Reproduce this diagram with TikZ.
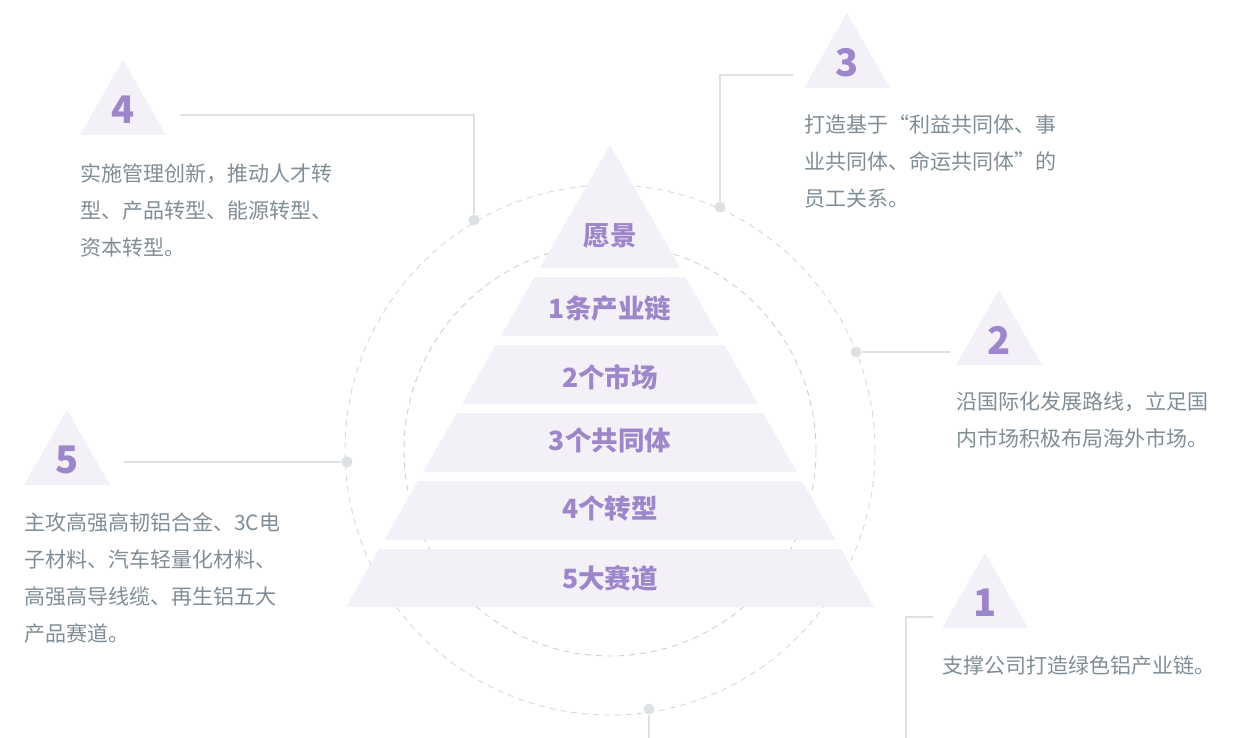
\documentclass[tikz,border=0pt]{standalone}
\usepackage{fontspec}
\newfontfamily\cjk{Noto Sans CJK SC}
\usetikzlibrary{calc,positioning}
\definecolor{lav}{HTML}{F3F0F7}
\definecolor{purp}{HTML}{9E86CB}
\definecolor{txtgrey}{HTML}{7F8D96}
\definecolor{linegrey}{HTML}{DDE1E4}
\definecolor{dashgrey}{HTML}{CFCFCF}

\begin{document}
\begin{tikzpicture}[x=1pt,y=-1pt]

\tikzset{band/.style={fill=lav},
lvltext/.style={font=\cjk\bfseries\fontsize{26.5}{26.5}\selectfont,text=purp,inner sep=0pt},
numtext/.style={font=\cjk\bfseries\fontsize{38}{38}\selectfont,text=purp,inner sep=0pt},
desc/.style={font=\cjk\fontsize{21}{37}\selectfont,text=txtgrey,align=left,anchor=north west,inner sep=0pt},
link/.style={draw=linegrey,line width=1.2pt},
dot/.style={circle,fill=linegrey,inner sep=0pt,minimum size=11pt}}

\useasboundingbox (0,0) rectangle (1242,738);

% Dashed rings
\draw[dashgrey!80,line width=0.9pt,dash pattern=on 6pt off 5pt] (610,450) circle[radius=265pt];
\draw[dashgrey,line width=0.9pt,dash pattern=on 6pt off 5pt] (610,450) circle[radius=206pt];

% Pyramid bands
\foreach \t/\b/\ly/\lab [count=\i] in {145/268/236/愿景, 277/336/309/1条产业链, 345/404/377/2个市场,
  413/472/440/3个共同体, 481/540/509/4个转型, 549/607/578/5大赛道} {
  \fill[band] ({610-0.5714*(\t-145)},\t) -- ({610+0.5714*(\t-145)},\t)
    -- ({610+0.5714*(\b-145)},\b) -- ({610-0.5714*(\b-145)},\b) -- cycle;
  \node[lvltext] (lvl\i) at (610,\ly) {\lab};
}

% Small numbered triangles
\foreach \n/\x/\y in {1/985/553, 2/999/290, 3/847/13, 4/123/60, 5/67/410} {
  \fill[lav] (\x,\y) -- ++(43,75) -- ++(-86,0) -- cycle;
  \node[numtext] (num\n) at (\x,{\y+50}) {\n};
}

% Dots on the ring
\node[dot] (dot1) at (649,709) {};
\node[dot] (dot2) at (856,352) {};
\node[dot] (dot3) at (720,207) {};
\node[dot] (dot4) at (474,220) {};
\node[dot] (dot5) at (347,462) {};

% Connector ends
\coordinate (end1) at (933,617); \coordinate (foot1) at (906,738); \coordinate (foot0) at (649,738);
\coordinate (end2) at (950,352);
\coordinate (end3) at (793,75);
\coordinate (end4) at (180,115);
\coordinate (end5) at (124,462);

% Connectors
\draw[link] (dot1) -- (foot0);
\draw[link] (foot1) |- (end1);
\draw[link] (dot2) -- (end2);
\draw[link] (end3) -| (dot3);
\draw[link] (end4) -| (dot4);
\draw[link] (dot5) -- (end5);

% Descriptions
\node[desc] (txt4) at (80,164) {实施管理创新，推动人才转\\型、产品转型、能源转型、\\资本转型。};
\node[desc] (txt3) at (804,115) {打造基于“利益共同体、事\\业共同体、命运共同体”的\\员工关系。};
\node[desc] (txt2) at (956,392) {沿国际化发展路线，立足国\\内市场积极布局海外市场。};
\node[desc] (txt5) at (24,512) {主攻高强高韧铝合金、3C电\\子材料、汽车轻量化材料、\\高强高导线缆、再生铝五大\\产品赛道。};
\node[desc] (txt1) at (942,656) {支撑公司打造绿色铝产业链。};

\end{tikzpicture}
\end{document}
